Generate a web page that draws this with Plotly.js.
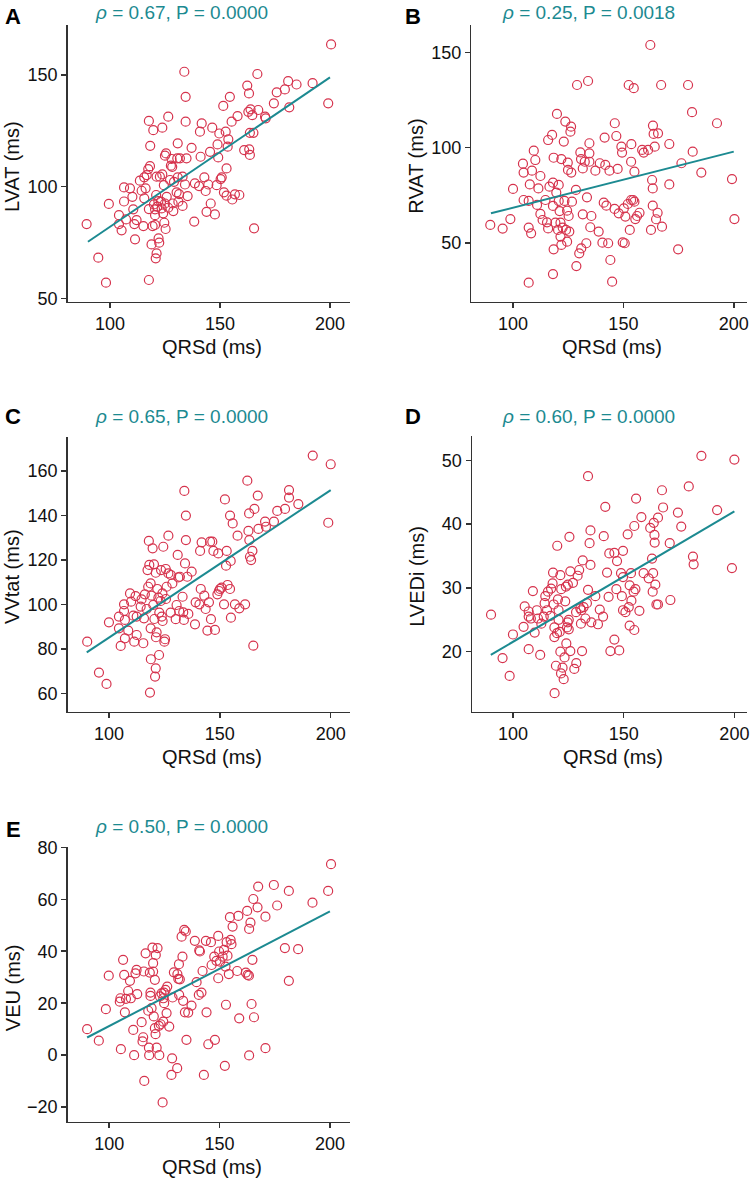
<!DOCTYPE html>
<html>
<head>
<meta charset="utf-8">
<script src="https://cdn.plot.ly/plotly-3.0.1.min.js"></script>
<style>
  html, body { margin: 0; padding: 0; background: #fff; }
  #chart { width: 755px; height: 1183px; }
</style>
</head>
<body>
<div id="chart"></div>
<script>
// QRSd (ms) vs each measure, one [qrsd, value] pair per patient
var lvat = [
  [89.4,83.3],[94.7,68.3],[98.2,57.1],[99.5,92.3],[104.1,87.3],[104.1,83.3],[105.3,80.5],[106.4,99.7],[106.4,93.4],[107.3,85.4],
  [109.1,99.3],[110.2,95.5],[110.6,89.9],[111.1,83.3],[111.4,76.5],[112.1,85.1],[113.6,102.7],[114.4,98.2],[115.2,82.4],[115.6,104.2],
  [115.6,94.8],[116.2,99.3],[116.7,105.2],[117.4,107.9],[117.7,90.0],[117.7,58.3],[117.7,129.4],[118.2,109.2],[118.3,118.3],[118.9,74.2],
  [119.4,82.4],[119.7,125.3],[120,92.1],[120.5,87.3],[120.5,89.9],[120.8,68.0],[121.2,70.2],[120.5,82.9],[121,96.3],[121.2,104.5],
  [121.5,91.1],[122,93.6],[122.1,76.9],[122.4,75.0],[122.7,104.5],[123.2,93.3],[123.5,90.3],[123.8,105.5],[123.8,126.4],[124.2,88.1],
  [124.5,100.7],[124.7,83.9],[125,113.9],[125,92.5],[125.3,81.1],[125.5,114.9],[125.8,95.5],[126.5,131.3],[126.5,90.6],[127.3,103.0],
  [127.7,109.4],[128,112.4],[128.3,108.9],[128.5,92.5],[128.8,89.1],[129.1,102.2],[130.3,97.5],[130.6,112.7],[130.8,119.4],[130.8,104.2],
  [131.1,93.3],[131.4,96.7],[131.8,112.7],[133,91.4],[133,104.5],[133.8,151.4],[134.1,101.0],[134.4,140.2],[134.4,129.1],[134.8,112.7],
  [135.3,95.8],[137.1,117.4],[138.3,84.4],[138.6,101.5],[140.5,100.3],[140.9,124.6],[141.2,113.4],[141.7,128.3],[142.9,104.2],[143.5,98.1],
  [143.9,88.8],[144.7,101.0],[145.5,115.6],[145.8,92.5],[146.5,126.4],[147.7,87.6],[148.5,100.7],[148.9,118.9],[149.2,113.1],[149.7,123.8],
  [150.3,103.4],[150.8,104.2],[151.5,136.1],[151.8,97.5],[152.6,124.6],[153,108.2],[153,96.0],[153.5,117.9],[153.8,121.2],[154.5,140.2],
  [155.3,129.1],[155.6,94.3],[156.8,96.6],[158,131.6],[158.8,96.3],[161,116.4],[162.4,145.2],[162.9,133.5],[163.2,141.7],[163.3,116.7],
  [163.6,124.1],[163.6,114.2],[163.9,134.6],[164.7,132.0],[165.2,124.1],[165.5,81.4],[167,150.4],[167.4,134.3],[170.5,131.3],[170.8,130.6],
  [174.5,137.3],[175.8,142.2],[179.5,143.5],[181,147.2],[181.5,135.5],[184.8,145.7],[192.1,146.3],[199.2,137.3],[200.5,163.6]
];

var rvat = [
  [89.7,59.4],[95.3,57.5],[98.8,62.5],[100,78.3],[104.5,91.6],[104.8,86.9],[104.8,72.5],[107.1,72.0],[107.1,58.0],[107.1,29.1],
  [108.2,55.0],[107.6,80.7],[108.6,87.9],[109.4,98.4],[110.1,93.5],[110.9,69.9],[111.5,78.6],[112.4,85.1],[112.4,65.2],[113.4,62.0],
  [114.7,72.5],[115.4,60.8],[115.9,57.6],[115.9,104.0],[116.5,79.5],[117.7,106.7],[118.1,81.6],[118.1,69.4],[118.4,94.7],[118.4,46.6],
  [118.1,33.6],[119.2,60.6],[119.6,76.4],[119.9,117.7],[120.4,56.8],[120.7,80.4],[120.7,72.0],[121.1,66.7],[121.5,60.6],[121.5,53.3],
  [121.9,48.9],[121.9,94.0],[122.5,58.0],[123,103.2],[123.3,72.0],[123.7,113.7],[124,56.8],[124.5,66.9],[124.5,50.6],[124.8,92.1],
  [124.9,88.3],[125.2,64.1],[125.5,55.9],[126,108.4],[126.3,111.0],[126.4,86.9],[126.7,71.6],[128.5,77.8],[128.7,37.8],[129,132.9],
  [130,44.5],[130.5,97.5],[130.8,94.0],[130.9,47.1],[131.6,65.0],[131.6,89.1],[132.5,92.6],[133.2,49.8],[133.5,73.9],[134,135.0],
  [134.6,102.3],[134.6,97.0],[134.6,92.6],[135,58.2],[135.5,64.1],[137.3,87.9],[138.8,55.9],[139.3,91.8],[140.5,50.1],[141.1,71.1],
  [141.5,105.3],[141.8,90.9],[142.3,69.5],[143.1,49.8],[143.7,87.9],[144.1,41.0],[144.9,29.6],[146,67.8],[146.1,112.8],[146.8,106.1],
  [147.4,88.8],[147.9,65.5],[149.1,100.5],[149.4,97.4],[149.7,50.3],[150.2,68.1],[150.6,49.8],[150.9,63.8],[152,70.4],[152.4,132.9],
  [152.9,56.8],[153.5,72.5],[153.5,92.6],[153.6,101.8],[154.4,72.5],[154.7,131.2],[155,71.6],[155,87.4],[155.4,62.5],[156.2,64.1],
  [157.3,65.8],[158.5,98.8],[159.2,97.4],[161.2,98.8],[162.2,153.9],[162.5,56.8],[163,83.0],[163.3,78.6],[163.3,69.5],[163.4,111.6],
  [163.7,107.2],[164.2,100.5],[164.8,62.4],[165.5,65.8],[165.7,107.5],[167.1,132.9],[167.5,58.5],[170.8,101.9],[170.8,80.7],[174.8,46.6],
  [176.3,91.8],[179.3,132.9],[181.1,118.6],[181.4,97.9],[185.3,86.9],[192.4,112.8],[199.2,83.5],[200.3,62.5]
];

var vvtat = [
  [90.2,83.2],[95.5,69.3],[98.9,64.2],[100,91.9],[104.5,89.2],[104.5,94.5],[105.3,81.3],[106.8,100.0],[106.8,97.0],[107.2,93.0],
  [107.2,84.7],[108.7,88.2],[109.5,104.9],[110,101.2],[111,94.9],[111.4,83.2],[112,103.7],[112.5,86.2],[112.5,94.5],[114.3,99.0],
  [114.7,102.2],[115.5,82.5],[115.8,93.7],[116.2,104.5],[117,97.9],[117.4,115.4],[117.7,107.9],[118,128.5],[118.2,117.7],[118.5,60.3],
  [118.8,109.4],[118.8,89.2],[118.9,75.3],[119.2,103.9],[119.7,125.2],[120,99.7],[120.3,118.0],[120.5,93.4],[120.8,67.5],[121.1,71.2],
  [121.1,114.2],[121.2,85.2],[121.5,87.4],[121.8,106.9],[122.3,103.0],[122.6,77.2],[122.7,96.3],[123.3,101.5],[123.5,115.4],[123.8,94.5],
  [124.1,104.9],[124.2,92.5],[124.5,125.9],[125,83.2],[125.3,84.3],[125.6,115.9],[125.7,102.4],[126,107.9],[126.8,130.9],[126.8,113.9],
  [127.8,96.3],[127.9,113.2],[128.6,109.4],[130.1,93.3],[130.5,99.7],[131,122.2],[131.3,112.1],[131.7,97.0],[132,112.4],[133.2,103.4],
  [133.5,96.4],[133.8,93.0],[134,151.0],[134.3,118.4],[134.7,139.9],[134.7,128.9],[135.3,112.4],[135.8,95.7],[137.3,114.7],[138.8,91.0],
  [139.1,100.9],[140.8,100.0],[141.1,124.0],[141.4,106.9],[141.8,127.9],[143,103.9],[143.6,97.9],[144.4,88.2],[145.1,100.9],[145.6,128.2],
  [146,93.3],[146.6,128.2],[147.1,124.0],[147.8,88.5],[148.9,104.5],[149.3,122.9],[149.6,106.0],[150.1,106.9],[150.8,107.5],[151.9,100.0],
  [152.3,147.2],[152.8,117.4],[153.1,124.0],[153.5,108.7],[154.6,139.9],[154.6,106.9],[154.9,119.5],[155,94.0],[155.8,136.4],[156.8,100.0],
  [158,130.9],[158.8,98.2],[161.4,100.0],[162.4,155.6],[162.9,133.0],[163.2,140.9],[163.3,128.9],[163.6,121.4],[164.1,119.9],[164.7,124.0],
  [165.1,81.4],[165.6,142.9],[167.1,148.9],[167.4,133.9],[170.4,137.2],[170.8,134.9],[174.4,137.2],[175.9,142.0],[179.4,142.9],[181.2,151.4],
  [181.2,148.0],[185.4,145.1],[191.9,166.9],[198.9,136.7],[200,163.0]
];

var lvedi = [
  [90.1,25.8],[95.3,19.0],[98.5,16.2],[100,22.7],[104.8,23.9],[105.3,27.1],[107.1,26.3],[107.1,20.4],[107.1,25.5],[108.1,25.2],
  [109,29.5],[109.8,23.0],[110.8,26.5],[111.3,25.2],[112.3,19.5],[112.8,24.4],[113.9,25.5],[114.3,27.6],[114.6,28.7],[115.4,26.5],
  [115.8,29.4],[116.9,25.6],[117.2,29.9],[117.9,30.7],[118.1,32.4],[118.4,27.4],[118.7,23.8],[118.7,22.3],[118.8,13.5],[119.4,17.8],
  [119.9,22.9],[120,36.6],[120.3,28.2],[120.6,25.0],[120.6,26.5],[121.1,23.1],[121.4,32.0],[121.4,20.0],[121.7,16.6],[121.8,29.8],
  [122.4,17.5],[122.9,15.7],[123.3,19.1],[123.6,27.9],[123.9,30.2],[124.1,21.3],[124.4,23.8],[124.7,24.6],[124.8,30.5],[125.2,25.0],
  [125.2,23.5],[125.5,38.0],[125.9,32.6],[125.9,20.1],[127.1,30.8],[127.7,17.3],[128.5,26.2],[128.6,18.2],[129.2,31.9],[129.9,32.8],
  [130.4,26.8],[130.7,24.4],[130.9,26.5],[131.2,20.1],[131.5,34.3],[131.9,27.0],[132.7,25.2],[133.4,27.6],[133.9,47.5],[133.9,29.7],
  [134.6,37.0],[135,39.0],[135,33.6],[135.4,24.6],[137.2,28.7],[138.4,24.3],[139.2,26.6],[140.7,25.5],[141,38.1],[141.7,42.7],
  [142.5,32.4],[143.2,28.6],[143.5,35.4],[144,20.1],[145.8,21.9],[145.8,35.5],[146.7,29.8],[147,34.2],[148,20.2],[148.8,32.3],
  [149.2,28.7],[149.7,35.8],[149.7,31.7],[149.7,26.5],[150.8,26.2],[151.8,38.4],[152.3,27.0],[152.7,24.1],[152.7,30.4],[153.3,32.3],
  [153.5,28.0],[154.5,29.4],[154.8,23.4],[154.8,39.7],[155.3,29.8],[155.6,44.0],[157.1,26.4],[158,41.1],[159,32.3],[161.3,31.5],
  [162,39.4],[162.8,34.6],[163.1,29.4],[163.3,32.3],[163.6,40.2],[163.9,38.3],[164,37.1],[164.3,30.5],[164.8,27.4],[165.5,27.4],
  [165.5,41.0],[167.3,45.3],[167.8,42.6],[170.8,37.0],[171.1,28.1],[174.5,41.8],[176,39.6],[179.4,45.9],[181.3,34.9],[181.6,33.7],
  [185.1,50.7],[192.2,42.2],[198.9,33.1],[200,50.1]
];

var veu = [
  [90,10.0],[95.3,5.6],[98.5,17.7],[99.8,30.6],[104.8,20.6],[105.1,21.9],[105.3,2.3],[106.3,36.7],[106.8,30.9],[107.1,16.5],
  [107.6,21.7],[108.6,24.7],[109.4,28.6],[109.8,21.9],[110.9,9.7],[111.3,0.0],[111.9,31.5],[112.4,32.8],[112.7,23.5],[114.7,12.7],
  [115.1,5.3],[115.4,6.9],[115.7,32.2],[115.9,-9.9],[116.5,39.2],[117.7,17.1],[118,2.9],[118.1,0.0],[118.4,31.8],[118.7,22.8],
  [118.7,24.1],[119.2,18.1],[119.6,41.4],[119.9,35.4],[119.9,32.2],[120.2,14.9],[120.7,29.0],[120.7,10.4],[121,8.1],[121.1,38.6],
  [121.5,2.9],[121.9,41.2],[122.5,11.3],[122.7,0.0],[123,22.6],[123.3,11.9],[123.7,23.8],[124.2,-18.2],[124.5,12.9],[124.5,21.9],
  [124.8,24.1],[124.9,20.0],[125.5,25.1],[126,16.2],[126.3,26.4],[127.2,11.0],[128.2,-7.6],[128.5,-1.2],[128.7,22.2],[129.3,31.9],
  [130.8,-5.0],[130.9,31.2],[131.3,29.4],[131.6,35.0],[131.7,23.2],[132,29.2],[132.8,45.6],[133.2,37.9],[133.5,20.9],[134,48.2],
  [134.3,16.5],[134.7,47.6],[135,5.9],[135.8,16.4],[137.3,19.1],[138.8,44.0],[139.6,28.1],[140.6,23.2],[140.8,40.3],[141.1,39.9],
  [141.8,24.1],[142.3,32.4],[142.9,-7.6],[143.8,44.0],[144.1,16.5],[144.9,4.2],[146.1,43.5],[146.4,34.7],[147.6,37.9],[147.9,5.9],
  [148.6,36.3],[149.4,29.6],[149.4,45.9],[149.8,39.9],[150.2,36.0],[151.4,37.9],[152,40.5],[152.4,-4.1],[152.7,34.1],[152.9,19.4],
  [153.2,43.5],[153.6,38.3],[154.2,31.2],[154.7,53.1],[155,44.4],[155.4,42.7],[155.9,49.5],[158,32.4],[158.5,53.6],[158.9,14.2],
  [161.9,31.8],[162.5,55.5],[162.7,30.9],[163.3,30.6],[163.4,48.6],[163.4,-0.1],[164,51.0],[164.5,19.7],[164.9,36.7],[165.3,60.1],
  [165.6,14.6],[167.2,56.9],[167.5,64.9],[170.8,53.3],[170.8,2.7],[174.6,65.5],[176.1,57.6],[179.6,41.2],[181.4,63.2],[181.4,28.6],
  [185.6,40.8],[192.1,58.7],[199.2,63.2],[200.5,73.5]
];

// fitted line ends, at QRSd = 90 and 200
var fitX = [90, 200];
var fitLvat = [75.4, 148.9];
var fitRvat = [65.5, 97.9];
var fitVvtat = [78.4, 151.4];
var fitLvedi = [19.5, 42.0];
var fitVeu = [6.8, 55.3];

var stats = ['0.67, P = 0.0000', '0.25, P = 0.0018', '0.65, P = 0.0000', '0.60, P = 0.0000', '0.50, P = 0.0000'];
var yNames = ['LVAT (ms)', 'RVAT (ms)', 'VVtat (ms)', 'LVEDi (ms)', 'VEU (ms)'];
var letters = ['A', 'B', 'C', 'D', 'E'];

var W = 755, H = 1183;
var red = '#d6334d', teal = '#1c8a91', ink = '#333333';
var font = 'Liberation Sans, Arial, Helvetica, sans-serif';

// box = [left, right, top, bottom] in px
var panels = [
  {pts: lvat,  fit: fitLvat,  box: [67.7, 350, 25, 301.7],    xr: [80.8, 209.1], yr: [48.6, 172.3], yt: [50, 100, 150], head: [181.7, 12.3], lab: [13, 16]},
  {pts: rvat,  fit: fitRvat,  box: [471.3, 747, 25, 301.7],   xr: [81.1, 206.0], yr: [19.1, 164.4], yt: [50, 100, 150], head: [588.7, 12.3], lab: [412.5, 16]},
  {pts: vvtat, fit: fitVvtat, box: [67.7, 350, 436.7, 711.7], xr: [81.4, 208.7], yr: [51.7, 175.4], yt: [60, 80, 100, 120, 140, 160], head: [181.7, 416.7], lab: [13, 416]},
  {pts: lvedi, fit: fitLvedi, box: [472, 747, 436, 711.7],    xr: [81.5, 205.7], yr: [10.6, 53.8], yt: [20, 30, 40, 50], head: [588.3, 416.7], lab: [412.5, 417]},
  {pts: veu,   fit: fitVeu,   box: [67.7, 350, 847.3, 1121.7], xr: [81.2, 209.1], yr: [-25.6, 80], yt: [-20, 0, 20, 40, 60, 80], head: [181.7, 826.7], lab: [13, 829]}
];

var data = [];
var layout = {
  width: W, height: H,
  margin: {l: 0, r: 0, t: 0, b: 0},
  paper_bgcolor: '#fff', plot_bgcolor: '#fff',
  showlegend: false,
  font: {family: font, size: 18, color: '#111'},
  annotations: []
};

panels.forEach(function(p, i){
  var n = i === 0 ? '' : String(i + 1);
  var b = p.box;
  data.push({
    x: p.pts.map(function(d){ return d[0]; }),
    y: p.pts.map(function(d){ return d[1]; }),
    xaxis: 'x' + n, yaxis: 'y' + n,
    type: 'scatter', mode: 'markers',
    marker: {symbol: 'circle-open', size: 9, color: red, line: {width: 1.2, color: red}},
    hoverinfo: 'skip'
  });
  data.push({
    x: fitX, y: p.fit,
    xaxis: 'x' + n, yaxis: 'y' + n,
    type: 'scatter', mode: 'lines',
    line: {color: teal, width: 2},
    hoverinfo: 'skip'
  });

  var axisCommon = {
    showgrid: false, zeroline: false,
    showline: true, linecolor: ink, linewidth: 1.5,
    ticks: 'outside', ticklen: 5, tickwidth: 1.5, tickcolor: ink,
    tickfont: {family: font, size: 18, color: '#111'},
    fixedrange: true
  };
  layout['xaxis' + n] = Object.assign({}, axisCommon, {
    domain: [b[0] / W, b[1] / W],
    range: p.xr,
    tickvals: [100, 150, 200],
    anchor: 'y' + n,
    ticklabelstandoff: 0
  });
  layout['yaxis' + n] = Object.assign({}, axisCommon, {
    domain: [1 - b[3] / H, 1 - b[2] / H],
    range: p.yr,
    tickvals: p.yt,
    anchor: 'x' + n,
    ticklabelstandoff: 0
  });

  var cx = (b[0] + b[1]) / 2 + 3, cy = (b[2] + b[3]) / 2 + 3;
  layout.annotations.push(
    {text: '<i>ρ</i> = ' + stats[i], x: p.head[0] / W, y: 1 - p.head[1] / H, xref: 'paper', yref: 'paper',
     xanchor: 'center', yanchor: 'middle', showarrow: false, font: {family: font, size: 19, color: teal}},
    {text: '<b>' + letters[i] + '</b>', x: p.lab[0] / W, y: 1 - p.lab[1] / H, xref: 'paper', yref: 'paper',
     xanchor: 'center', yanchor: 'middle', showarrow: false, font: {family: font, size: 22, color: '#000'}},
    {text: yNames[i], x: (b[0] - 55) / W, y: 1 - cy / H, xref: 'paper', yref: 'paper', textangle: -90,
     xanchor: 'center', yanchor: 'middle', showarrow: false, font: {family: font, size: 20, color: '#111'}},
    {text: 'QRSd (ms)', x: cx / W, y: 1 - (b[3] + 45) / H, xref: 'paper', yref: 'paper',
     xanchor: 'center', yanchor: 'middle', showarrow: false, font: {family: font, size: 20, color: '#111'}}
  );
});

Plotly.newPlot('chart', data, layout, {staticPlot: true});
</script>
</body>
</html>
